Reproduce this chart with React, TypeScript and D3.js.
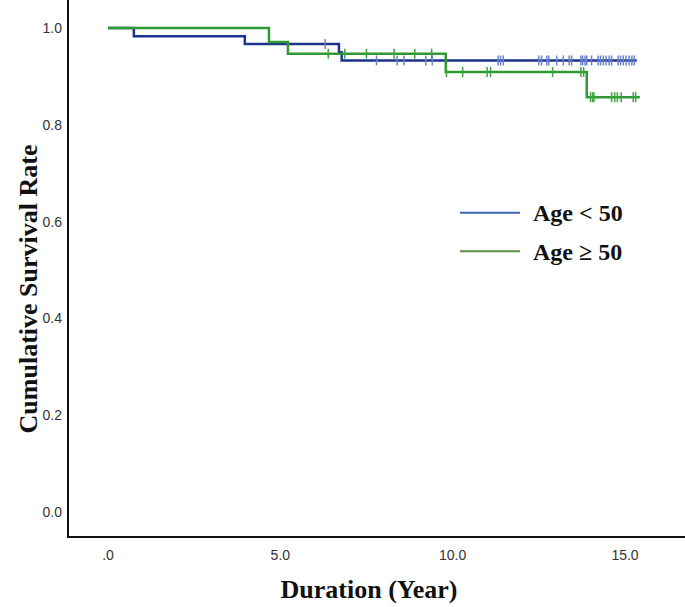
import React from "react";
import * as d3 from "d3";

const W = 685;
const H = 607;

// Kaplan-Meier step data (time in years, cumulative survival)
const blueStepTimes = [0, 0.75, 3.97, 6.7, 6.78];
const blueStepSurv = [1.0, 0.983, 0.967, 0.95, 0.933];
const blueEnd = 15.34;
const blueCensorTimes = [
  6.3, 7.79, 8.39, 8.59, 9.22, 9.41, 11.32, 11.39, 11.47, 12.5, 12.58, 12.73,
  12.79, 13.02, 13.21, 13.38, 13.45, 13.72, 13.77, 13.84, 13.89, 14.03, 14.22,
  14.29, 14.37, 14.45, 14.54, 14.61, 14.8, 14.87, 14.95, 15.03, 15.12, 15.2, 15.27,
];

const greenStepTimes = [0, 4.67, 5.22, 9.8, 13.89];
const greenStepSurv = [1.0, 0.971, 0.947, 0.909, 0.857];
const greenEnd = 15.43;
const greenCensorTimes = [
  6.39, 6.87, 7.5, 8.3, 8.9, 9.39, 9.82, 10.29, 11.0, 11.1, 12.9, 13.72, 13.8,
  14.0, 14.06, 14.1, 14.61, 14.7, 14.78, 14.89, 15.24, 15.31,
];

const yTicks = [0, 0.2, 0.4, 0.6, 0.8, 1.0];
const yTickLabels = ["0.0", "0.2", "0.4", "0.6", "0.8", "1.0"];
const xTicks = [0, 5, 10, 15];
const xTickLabels = [".0", "5.0", "10.0", "15.0"];

const legendLabels = ["Age < 50", "Age \u2265 50"];

const x = d3.scaleLinear().domain([0, 15]).range([108, 625]);
const y = d3.scaleLinear().domain([0, 1]).range([512, 28]);

function survAt(times: number[], surv: number[], t: number) {
  let s = surv[0];
  for (let i = 0; i < times.length; i++) if (times[i] <= t) s = surv[i];
  return s;
}

function stepPath(times: number[], surv: number[], end: number) {
  const pts: [number, number][] = times.map((t, i) => [t, surv[i]]);
  pts.push([end, surv[surv.length - 1]]);
  const line = d3
    .line<[number, number]>()
    .x((d) => x(d[0]))
    .y((d) => y(d[1]))
    .curve(d3.curveStepAfter);
  return line(pts) || "";
}

const series = [
  {
    times: blueStepTimes,
    surv: blueStepSurv,
    end: blueEnd,
    censor: blueCensorTimes,
    line: "#1c348c",
    mark: "#6a82cf",
    legend: "#3d63b3",
  },
  {
    times: greenStepTimes,
    surv: greenStepSurv,
    end: greenEnd,
    censor: greenCensorTimes,
    line: "#2f9a33",
    mark: "#3fa33f",
    legend: "#5a8f3c",
  },
];

export default function App() {
  return (
    <svg
      width={W}
      height={H}
      style={{ position: "absolute", left: 0, top: 0, background: "#fff" }}
    >
      <rect width={W} height={H} fill="#fff" />
      {/* axes */}
      <line x1={68} y1={0} x2={68} y2={537} stroke="#111" strokeWidth={2} />
      <line x1={67} y1={537} x2={685} y2={537} stroke="#111" strokeWidth={2} />
      {yTicks.map((t, i) => (
        <text
          key={"y" + i}
          x={62}
          y={y(t)}
          dy="0.35em"
          textAnchor="end"
          fontFamily="Liberation Sans, Arial, sans-serif"
          fontSize={14}
          fill="#333"
        >
          {yTickLabels[i]}
        </text>
      ))}
      {xTicks.map((t, i) => (
        <text
          key={"x" + i}
          x={x(t)}
          y={560}
          textAnchor="middle"
          fontFamily="Liberation Sans, Arial, sans-serif"
          fontSize={14}
          fill="#333"
        >
          {xTickLabels[i]}
        </text>
      ))}
      {/* curves */}
      {series.map((s, si) => (
        <g key={"s" + si}>
          <path
            d={stepPath(s.times, s.surv, s.end)}
            fill="none"
            stroke={s.line}
            strokeWidth={2.5}
          />
          {s.censor.map((t, ci) => {
            const yy = y(survAt(s.times, s.surv, t));
            return (
              <line
                key={ci}
                x1={x(t)}
                x2={x(t)}
                y1={yy - 5}
                y2={yy + 5}
                stroke={s.mark}
                strokeWidth={1.5}
              />
            );
          })}
        </g>
      ))}
      {/* legend */}
      {series.map((s, i) => (
        <g key={"l" + i} transform={`translate(460, ${212.7 + i * 38.5})`}>
          <line x1={0} x2={60} y1={0} y2={0} stroke={s.legend} strokeWidth={2} />
          <text
            x={73}
            y={0}
            dy="0.35em"
            fontFamily="Liberation Serif, Times New Roman, serif"
            fontWeight="bold"
            fontSize={24}
            fill="#111"
          >
            {legendLabels[i]}
          </text>
        </g>
      ))}
      {/* axis titles */}
      <text
        x={369}
        y={598}
        textAnchor="middle"
        fontFamily="Liberation Serif, Times New Roman, serif"
        fontWeight="bold"
        fontSize={26}
        fill="#111"
      >
        Duration (Year)
      </text>
      <text
        transform="translate(37, 289) rotate(-90)"
        textAnchor="middle"
        fontFamily="Liberation Serif, Times New Roman, serif"
        fontWeight="bold"
        fontSize={26}
        fill="#111"
      >
        Cumulative Survival Rate
      </text>
    </svg>
  );
}
